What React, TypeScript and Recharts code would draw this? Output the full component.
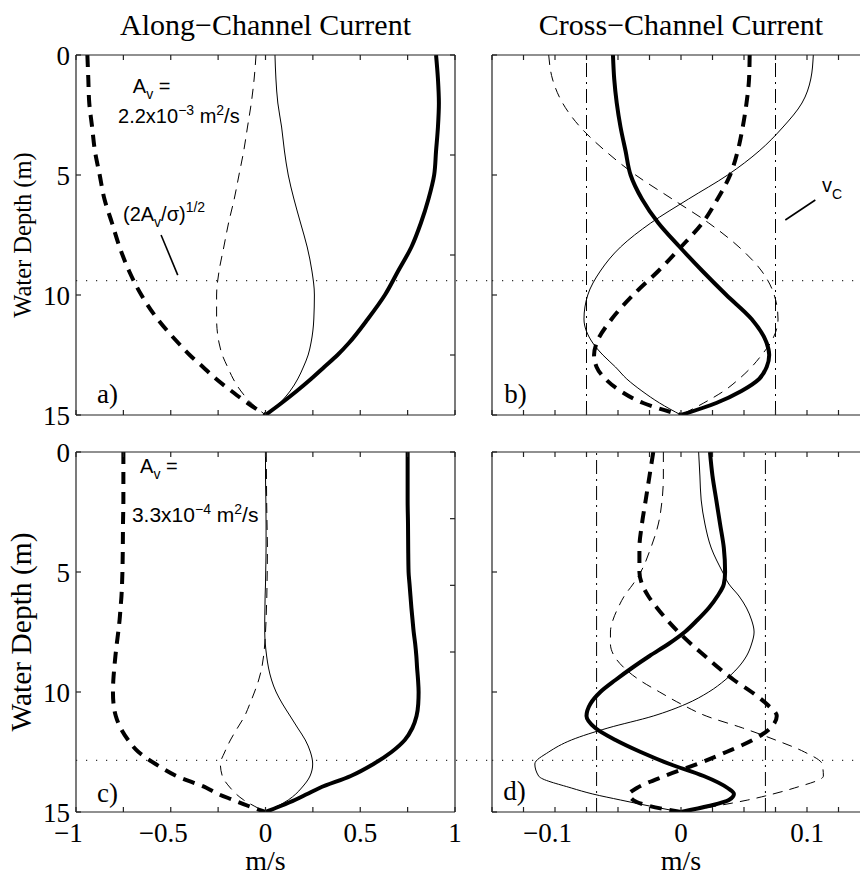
import React from 'react';
import { LineChart, Line, XAxis, YAxis, ReferenceLine, ReferenceDot } from 'recharts';

const SERIF = '"Liberation Serif", "Times New Roman", Times, serif';
const SANS = '"Liberation Sans", Arial, Helvetica, sans-serif';
const INK = '#000';
const AXIS_INK = '#222';

// ---------- depths (m) ----------
const DEPTH_AB = [0, 1, 2, 3, 4, 5, 6, 7, 8, 9, 10, 11, 12, 12.5, 13, 13.5, 14, 14.5, 15];
const DEPTH_CD = [0, 1, 2, 3, 4, 5, 5.5, 6, 6.5, 7, 7.5, 8, 8.5, 9, 9.5, 10, 10.5, 11, 11.5, 12, 12.5, 13, 13.5, 14, 14.25, 14.5, 14.75, 15];

// ---------- a) along-channel, Av = 2.2e-3 ----------
const A_THICK_SOLID = [0.9, 0.91, 0.915, 0.91, 0.9, 0.89, 0.86, 0.82, 0.77, 0.7, 0.63, 0.54, 0.44, 0.38, 0.31, 0.24, 0.165, 0.085, 0];
const A_THICK_DASH = [-0.94, -0.935, -0.93, -0.915, -0.9, -0.875, -0.85, -0.81, -0.77, -0.72, -0.655, -0.57, -0.46, -0.4, -0.33, -0.26, -0.18, -0.095, 0];
const A_THIN_SOLID = [0.05, 0.055, 0.065, 0.085, 0.1, 0.12, 0.15, 0.185, 0.22, 0.245, 0.258, 0.255, 0.24, 0.225, 0.2, 0.17, 0.13, 0.075, 0];
const A_THIN_DASH = [-0.05, -0.06, -0.075, -0.095, -0.115, -0.14, -0.165, -0.195, -0.22, -0.245, -0.258, -0.258, -0.245, -0.228, -0.2, -0.17, -0.13, -0.075, 0];

// ---------- b) cross-channel, Av = 2.2e-3 ----------
const B_THICK_SOLID = [-0.054, -0.053, -0.051, -0.048, -0.044, -0.04, -0.031, -0.018, -0.001, 0.017, 0.036, 0.056, 0.068, 0.07, 0.068, 0.062, 0.048, 0.028, 0];
const B_THICK_DASH = [0.0545, 0.054, 0.052, 0.049, 0.045, 0.039, 0.029, 0.017, 0.0, -0.018, -0.038, -0.055, -0.067, -0.069, -0.067, -0.06, -0.048, -0.03, 0];
const B_THIN_SOLID = [0.105, 0.103, 0.096, 0.081, 0.062, 0.037, 0.006, -0.024, -0.048, -0.064, -0.074, -0.077, -0.07, -0.062, -0.052, -0.043, -0.031, -0.017, 0];
const B_THIN_DASH = [-0.105, -0.102, -0.094, -0.08, -0.06, -0.036, -0.007, 0.022, 0.046, 0.064, 0.074, 0.077, 0.071, 0.064, 0.056, 0.046, 0.034, 0.018, 0];

// ---------- c) along-channel, Av = 3.3e-4 ----------
const C_THICK_SOLID = [0.75, 0.75, 0.75, 0.752, 0.753, 0.755, 0.76, 0.765, 0.77, 0.776, 0.782, 0.79, 0.796, 0.8, 0.805, 0.808, 0.806, 0.797, 0.775, 0.735, 0.665, 0.57, 0.45, 0.285, 0.22, 0.155, 0.08, 0];
const C_THICK_DASH = [-0.75, -0.75, -0.75, -0.752, -0.753, -0.755, -0.757, -0.76, -0.765, -0.77, -0.777, -0.785, -0.792, -0.798, -0.803, -0.805, -0.802, -0.79, -0.765, -0.725, -0.67, -0.58, -0.47, -0.31, -0.25, -0.17, -0.09, 0];
const C_THIN_SOLID = [0, 0, 0.002, 0.003, 0.003, 0.001, 0, -0.002, -0.003, -0.004, -0.004, -0.001, 0.006, 0.016, 0.032, 0.056, 0.09, 0.13, 0.17, 0.21, 0.237, 0.249, 0.235, 0.19, 0.16, 0.12, 0.065, 0];
const C_THIN_DASH = [0.004, 0.005, 0.006, 0.008, 0.01, 0.009, 0.008, 0.007, 0.005, 0.003, 0, -0.004, -0.01, -0.02, -0.036, -0.058, -0.083, -0.11, -0.148, -0.185, -0.215, -0.238, -0.228, -0.185, -0.155, -0.115, -0.06, 0];

// ---------- d) cross-channel, Av = 3.3e-4 ----------
const D_THICK_SOLID = [0.023, 0.025, 0.028, 0.031, 0.034, 0.035, 0.034, 0.029, 0.022, 0.013, 0.003, -0.01, -0.025, -0.039, -0.052, -0.064, -0.072, -0.075, -0.068, -0.052, -0.032, -0.009, 0.018, 0.037, 0.042, 0.038, 0.022, 0];
const D_THICK_DASH = [-0.022, -0.025, -0.028, -0.031, -0.033, -0.033, -0.031, -0.026, -0.019, -0.011, -0.002, 0.008, 0.019, 0.03, 0.042, 0.056, 0.068, 0.076, 0.071, 0.057, 0.036, 0.013, -0.013, -0.035, -0.041, -0.038, -0.025, 0];
const D_THIN_SOLID = [0.014, 0.015, 0.016, 0.019, 0.024, 0.033, 0.038, 0.046, 0.052, 0.056, 0.058, 0.056, 0.052, 0.045, 0.035, 0.022, 0.004, -0.022, -0.058, -0.087, -0.105, -0.116, -0.113, -0.087, -0.07, -0.048, -0.025, 0];
const D_THIN_DASH = [-0.014, -0.014, -0.015, -0.018, -0.024, -0.032, -0.038, -0.045, -0.05, -0.054, -0.056, -0.056, -0.053, -0.045, -0.033, -0.017, 0, 0.02, 0.049, 0.075, 0.098, 0.112, 0.113, 0.09, 0.073, 0.053, 0.028, 0];

// ---------- reference levels ----------
const DOTTED_DEPTH_AB = 9.4;   // (2Av/sigma)^1/2 depth, top row
const DOTTED_DEPTH_CD = 12.85; // bottom row
const VC_B = 0.075;
const VC_D = 0.067;

// ---------- ticks ----------
const Y_TICKS = [0, 5, 10, 15];
const Y_TICK_LABELS = ['0', '5', '10', '15'];
const X_TICKS_ALONG = [-1, -0.75, -0.5, -0.25, 0, 0.25, 0.5, 0.75, 1];
const X_LABEL_VALUES_ALONG = [-1, -0.5, 0, 0.5, 1];
const X_LABEL_TEXT_ALONG = ['\u22121', '\u22120.5', '0', '0.5', '1'];
const X_TICKS_CROSS = [-0.15, -0.125, -0.1, -0.075, -0.05, -0.025, 0, 0.025, 0.05, 0.075, 0.1, 0.125, 0.15];
const X_LABEL_VALUES_CROSS = [-0.1, 0, 0.1];
const X_LABEL_TEXT_CROSS = ['\u22120.1', '0', '0.1'];

const SERIES = [
  { key: 'thickSolid', width: 4, dash: undefined as string | undefined },
  { key: 'thickDash', width: 4, dash: '12 8' },
  { key: 'thinSolid', width: 1, dash: undefined as string | undefined },
  { key: 'thinDash', width: 1, dash: '10 7' },
];

const rowsOf = (depths: number[], ts: number[], td: number[], ns: number[], nd: number[]) =>
  depths.map((d, i) => ({ d, thickSolid: ts[i], thickDash: td[i], thinSolid: ns[i], thinDash: nd[i] }));

const ROWS_A = rowsOf(DEPTH_AB, A_THICK_SOLID, A_THICK_DASH, A_THIN_SOLID, A_THIN_DASH);
const ROWS_B = rowsOf(DEPTH_AB, B_THICK_SOLID, B_THICK_DASH, B_THIN_SOLID, B_THIN_DASH);
const ROWS_C = rowsOf(DEPTH_CD, C_THICK_SOLID, C_THICK_DASH, C_THIN_SOLID, C_THIN_DASH);
const ROWS_D = rowsOf(DEPTH_CD, D_THICK_SOLID, D_THICK_DASH, D_THIN_SOLID, D_THIN_DASH);

// ---------- tick / label renderers ----------
const blankTick = () => <g />;

const makeYTick = (show: boolean) => (props: any) => {
  if (!show) return <g />;
  const i = Y_TICKS.indexOf(props.payload.value);
  return (
    <text x={props.x} y={props.y} dy={9.5} textAnchor="end" fontFamily={SERIF} fontSize={27} fill={INK}>
      {Y_TICK_LABELS[i]}
    </text>
  );
};

const makeXTick = (show: boolean, vals: number[], texts: string[]) => (props: any) => {
  if (!show) return <g />;
  const v = props.payload.value;
  const i = vals.findIndex((u) => Math.abs(u - v) < 1e-9);
  if (i < 0) return <g />;
  return (
    <text x={props.x + (v < 0 ? -7.6 : 0)} y={props.y} dy={19} textAnchor="middle" fontFamily={SERIF} fontSize={27} fill={INK}>
      {texts[i]}
    </text>
  );
};

const vbOf = (props: any) => props.viewBox || { x: 0, y: 0, width: 0, height: 0 };

const titleLabel = (text: string) => (props: any) => {
  const vb = vbOf(props);
  return (
    <text x={vb.x + vb.width / 2} y={vb.y + vb.height - 20} textAnchor="middle" fontFamily={SERIF} fontSize={30} fill={INK}>
      {text}
    </text>
  );
};

const bottomLabel = (text: string) => (props: any) => {
  const vb = vbOf(props);
  return (
    <text x={vb.x + vb.width / 2} y={vb.y + 58} textAnchor="middle" fontFamily={SERIF} fontSize={28} fill={INK}>
      {text}
    </text>
  );
};

const sideLabel = (text: string, size: number) => (props: any) => {
  const vb = vbOf(props);
  const cx = vb.x + 31;
  const cy = vb.y + vb.height / 2;
  return (
    <text x={cx} y={cy} transform={`rotate(-90 ${cx} ${cy})`} textAnchor="middle" fontFamily={SERIF} fontSize={size} fill={INK}>
      {text}
    </text>
  );
};

const annot = (key: string, x: number, y: number, node: (px: number, py: number) => React.ReactElement) => (
  <ReferenceDot
    key={key}
    x={x}
    y={y}
    r={0}
    fill="none"
    stroke="none"
    ifOverflow="visible"
    label={(props: any) => {
      const vb = vbOf(props);
      return node(vb.x + (vb.width || 0) / 2, vb.y + (vb.height || 0) / 2);
    }}
  />
);

const panelLetter = (key: string, x: number, y: number, letter: string) =>
  annot(key, x, y, (px, py) => (
    <text x={px} y={py} fontFamily={SERIF} fontSize={27} fill={INK}>{letter}</text>
  ));

const leader = (key: string, x1: number, y1: number, x2: number, y2: number) => (
  <ReferenceLine key={key} segment={[{ x: x1, y: y1 }, { x: x2, y: y2 }]} stroke={INK} strokeWidth={1.6} ifOverflow="visible" />
);

type PanelProps = {
  left: number;
  top: number;
  width: number;
  height: number;
  margin: { top: number; right: number; bottom: number; left: number };
  yAxisWidth: number;
  rows: any[];
  xDomain: [number, number];
  xTicks: number[];
  labelVals: number[];
  labelTexts: string[];
  showXLabels: boolean;
  showYLabels: boolean;
  yLabelSize?: number;
  title?: string;
  xTitle?: string;
  dotted: number;
  dottedTo?: number;
  vc?: number;
  extras: React.ReactElement[];
};

function Panel(p: PanelProps) {
  return (
    <div style={{ position: 'absolute', left: p.left, top: p.top }}>
      <LineChart width={p.width} height={p.height} data={p.rows} layout="vertical" margin={p.margin}>
        <XAxis
          type="number"
          domain={p.xDomain}
          ticks={p.xTicks}
          interval={0}
          allowDataOverflow
          height={1}
          tickSize={-5}
          tickMargin={16}
          stroke={AXIS_INK}
          strokeWidth={1.2}
          tick={makeXTick(p.showXLabels, p.labelVals, p.labelTexts)}
          label={p.xTitle ? { content: bottomLabel(p.xTitle) } : undefined}
        />
        <XAxis
          xAxisId="top"
          orientation="top"
          type="number"
          domain={p.xDomain}
          ticks={p.xTicks}
          interval={0}
          allowDataOverflow
          height={1}
          tickSize={-5}
          stroke={AXIS_INK}
          strokeWidth={1.2}
          tick={blankTick}
          label={p.title ? { content: titleLabel(p.title) } : undefined}
        />
        <YAxis
          type="number"
          dataKey="d"
          domain={[0, 15]}
          ticks={Y_TICKS}
          interval={0}
          allowDataOverflow
          width={p.yAxisWidth}
          tickSize={-5}
          tickMargin={11}
          stroke={AXIS_INK}
          strokeWidth={1.2}
          tick={makeYTick(p.showYLabels)}
          label={p.yLabelSize ? { content: sideLabel('Water Depth (m)', p.yLabelSize) } : undefined}
        />
        <YAxis
          yAxisId="right"
          orientation="right"
          type="number"
          domain={[0, 15]}
          ticks={Y_TICKS}
          interval={0}
          allowDataOverflow
          width={1}
          tickSize={-5}
          stroke={AXIS_INK}
          strokeWidth={1.2}
          tick={blankTick}
        />
        {p.dottedTo !== undefined ? (
          <ReferenceLine
            segment={[{ x: p.xDomain[0], y: p.dotted }, { x: p.dottedTo, y: p.dotted }]}
            stroke="#333"
            strokeWidth={1.2}
            strokeDasharray="1.2 8.8"
            ifOverflow="visible"
          />
        ) : (
          <ReferenceLine y={p.dotted} stroke="#333" strokeWidth={1.2} strokeDasharray="1.2 8.8" ifOverflow="visible" />
        )}
        {p.vc !== undefined && (
          <ReferenceLine x={-p.vc} stroke={INK} strokeWidth={1} strokeDasharray="14 5 2 5" />
        )}
        {p.vc !== undefined && (
          <ReferenceLine x={p.vc} stroke={INK} strokeWidth={1} strokeDasharray="14 5 2 5" />
        )}
        {SERIES.map((s) => (
          <Line
            key={s.key}
            dataKey={s.key}
            type="monotone"
            stroke={INK}
            strokeWidth={s.width}
            strokeDasharray={s.dash}
            dot={false}
            activeDot={false}
            isAnimationActive={false}
          />
        ))}
        {p.extras}
      </LineChart>
    </div>
  );
}

const sup = (t: string) => (
  <tspan fontSize={14} dy={-8}>{t}</tspan>
);

const EXTRAS_A = [
  annot('av-a', -0.7, 1.58, (x, y) => (
    <text x={x} y={y} fontFamily={SANS} fontSize={20} fill={INK}>
      A<tspan fontSize={14} dy={6}>v</tspan><tspan dy={-6}>{'\u00A0='}</tspan>
    </text>
  )),
  annot('val-a', -0.778, 2.85, (x, y) => (
    <text x={x} y={y} fontFamily={SANS} fontSize={20} fill={INK}>
      2.2x10{sup('\u22123')}<tspan dy={8}>{'\u00A0m'}</tspan>{sup('2')}<tspan dy={8}>/s</tspan>
    </text>
  )),
  annot('scale-a', -0.752, 6.92, (x, y) => (
    <text x={x} y={y} fontFamily={SANS} fontSize={20} fill={INK}>
      (2A<tspan fontSize={14} dy={6}>v</tspan><tspan dy={-6}>/σ)</tspan><tspan fontSize={14} dy={-9}>1/2</tspan>
    </text>
  )),
  leader('lead-a', -0.551, 7.5, -0.463, 9.17),
  panelLetter('let-a', -0.889, 14.5, 'a)'),
];

const EXTRAS_B = [
  annot('vc-b', 0.112, 5.71, (x, y) => (
    <text x={x} y={y} fontFamily={SANS} fontSize={20} fill={INK}>
      v<tspan fontSize={14} dy={7}>C</tspan>
    </text>
  )),
  leader('lead-b', 0.0828, 6.875, 0.1066, 6.04),
  panelLetter('let-b', -0.1402, 14.5, 'b)'),
];

const EXTRAS_C = [
  annot('av-c', -0.662, 0.875, (x, y) => (
    <text x={x} y={y} fontFamily={SANS} fontSize={20} fill={INK}>
      A<tspan fontSize={14} dy={6}>v</tspan><tspan dy={-6}>{'\u00A0='}</tspan>
    </text>
  )),
  annot('val-c', -0.705, 2.917, (x, y) => (
    <text x={x} y={y} fontFamily={SANS} fontSize={21} fill={INK}>
      3.3x10{sup('\u22124')}<tspan dy={8}>{'\u00A0m'}</tspan>{sup('2')}<tspan dy={8}>/s</tspan>
    </text>
  )),
  panelLetter('let-c', -0.889, 14.58, 'c)'),
];

const EXTRAS_D = [panelLetter('let-d', -0.141, 14.5, 'd)')];

export default function App() {
  return (
    <div style={{ position: 'absolute', left: 0, top: 0, width: 860, height: 875, overflow: 'hidden', background: '#fff' }}>
      <Panel
        left={0}
        top={0}
        width={493}
        height={440}
        margin={{ top: 54, right: 37, bottom: 24, left: 0 }}
        yAxisWidth={76}
        rows={ROWS_A}
        xDomain={[-1, 1]}
        xTicks={X_TICKS_ALONG}
        labelVals={X_LABEL_VALUES_ALONG}
        labelTexts={X_LABEL_TEXT_ALONG}
        showXLabels={false}
        showYLabels
        yLabelSize={24.5}
        title={'Along\u2212Channel Current'}
        dotted={DOTTED_DEPTH_AB}
        dottedTo={1.2}
        extras={EXTRAS_A}
      />
      <Panel
        left={455}
        top={0}
        width={416}
        height={440}
        margin={{ top: 54, right: 0, bottom: 24, left: 0 }}
        yAxisWidth={37}
        rows={ROWS_B}
        xDomain={[-0.15, 0.15]}
        xTicks={X_TICKS_CROSS}
        labelVals={X_LABEL_VALUES_CROSS}
        labelTexts={X_LABEL_TEXT_CROSS}
        showXLabels={false}
        showYLabels={false}
        title={'Cross\u2212Channel Current'}
        dotted={DOTTED_DEPTH_AB}
        vc={VC_B}
        extras={EXTRAS_B}
      />
      <Panel
        left={0}
        top={415}
        width={493}
        height={460}
        margin={{ top: 36, right: 37, bottom: 62, left: 0 }}
        yAxisWidth={76}
        rows={ROWS_C}
        xDomain={[-1, 1]}
        xTicks={X_TICKS_ALONG}
        labelVals={X_LABEL_VALUES_ALONG}
        labelTexts={X_LABEL_TEXT_ALONG}
        showXLabels
        showYLabels
        yLabelSize={29.5}
        xTitle="m/s"
        dotted={DOTTED_DEPTH_CD}
        dottedTo={1.2}
        extras={EXTRAS_C}
      />
      <Panel
        left={455}
        top={415}
        width={416}
        height={460}
        margin={{ top: 36, right: 0, bottom: 62, left: 0 }}
        yAxisWidth={37}
        rows={ROWS_D}
        xDomain={[-0.15, 0.15]}
        xTicks={X_TICKS_CROSS}
        labelVals={X_LABEL_VALUES_CROSS}
        labelTexts={X_LABEL_TEXT_CROSS}
        showXLabels
        showYLabels={false}
        xTitle="m/s"
        dotted={DOTTED_DEPTH_CD}
        vc={VC_D}
        extras={EXTRAS_D}
      />
    </div>
  );
}
